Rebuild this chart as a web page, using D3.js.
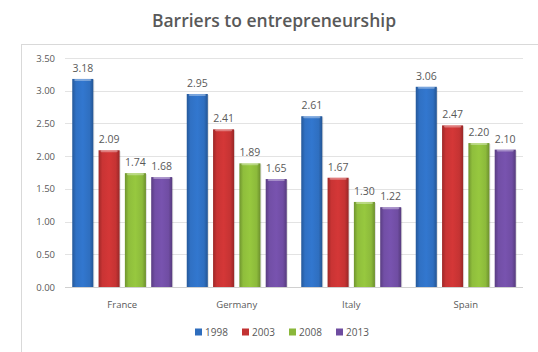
<!DOCTYPE html>
<html>
<head>
<meta charset="utf-8">
<script src="https://cdn.jsdelivr.net/npm/d3@7"></script>
<style>
  html, body { margin: 0; padding: 0; background: #fff; }
  svg { display: block; }
  text { font-family: "Open Sans", "Liberation Sans", sans-serif; }
</style>
</head>
<body>
<svg id="chart" width="538" height="352"></svg>
<script>
// Survey scores per country and year
const countries = ["France", "Germany", "Italy", "Spain"];
const years = ["1998", "2003", "2008", "2013"];
const values1998 = [3.18, 2.95, 2.61, 3.06];
const values2003 = [2.09, 2.41, 1.67, 2.47];
const values2008 = [1.74, 1.89, 1.30, 2.20];
const values2013 = [1.68, 1.65, 1.22, 2.10];
const yTicks = [0, 0.5, 1, 1.5, 2, 2.5, 3, 3.5];
const seriesColors = ["#2e6dbd", "#c23232", "#8ab73a", "#6e4ca0"];

const seriesValues = [values1998, values2003, values2008, values2013];
const rows = countries.map((c, i) => ({
  country: c,
  vals: years.map((y, s) => ({ year: y, s, value: seriesValues[s][i] }))
}));

const svg = d3.select("#chart");
const plot = { left: 65, right: 523, top: 58, bottom: 287 };

// outer chart frame
svg.append("rect")
  .attr("x", 21.5).attr("y", 44.5)
  .attr("width", 530).attr("height", 340)
  .attr("fill", "#fff").attr("stroke", "#d9d9d9");

// title
svg.append("text")
  .attr("x", 274).attr("y", 27)
  .attr("text-anchor", "middle")
  .attr("font-size", 17.5).attr("font-weight", 600)
  .attr("fill", "#595959")
  .text("Barriers to entrepreneurship");

const x0 = d3.scaleBand().domain(countries).range([plot.left, plot.right]);
const x1 = d3.scaleBand().domain(years)
  .range([0, 100]).paddingInner(0.2).paddingOuter(0);
const y = d3.scaleLinear().domain([0, 3.5]).range([plot.bottom, plot.top]);

// bevelled bar gradients
const defs = svg.append("defs");
seriesColors.forEach((col, i) => {
  const c = d3.color(col);
  const g = defs.append("linearGradient").attr("id", "grad" + i)
    .attr("x1", "0%").attr("x2", "100%").attr("y1", "0%").attr("y2", "0%");
  g.append("stop").attr("offset", "0%").attr("stop-color", c.darker(0.6));
  g.append("stop").attr("offset", "18%").attr("stop-color", c.brighter(0.1));
  g.append("stop").attr("offset", "50%").attr("stop-color", c.brighter(0.25));
  g.append("stop").attr("offset", "82%").attr("stop-color", c.brighter(0.05));
  g.append("stop").attr("offset", "100%").attr("stop-color", c.darker(0.7));
});

// gridlines
svg.append("g").selectAll("line")
  .data(yTicks.filter(t => t > 0))
  .join("line")
  .attr("x1", plot.left).attr("x2", plot.right)
  .attr("y1", d => Math.round(y(d)) + 0.5).attr("y2", d => Math.round(y(d)) + 0.5)
  .attr("stroke", "#e3e3e3");

// y axis labels
const yAxis = d3.axisLeft(y).tickValues(yTicks).tickFormat(d3.format(".2f")).tickSize(0).tickPadding(10);
const yg = svg.append("g").attr("transform", `translate(${plot.left},0)`).call(yAxis);
yg.select(".domain").remove();
yg.selectAll("text").attr("font-size", 9.5).attr("fill", "#595959")
  .attr("font-family", "\"Open Sans\", sans-serif");

// bars
const groups = svg.append("g").selectAll("g")
  .data(rows).join("g")
  .attr("transform", d => `translate(${x0(d.country) + (x0.bandwidth() - 100) / 2},0)`);

groups.selectAll("rect.shadow")
  .data(d => d.vals).join("rect")
  .attr("class", "shadow")
  .attr("x", d => x1(d.year) + 1)
  .attr("y", d => y(d.value) + 1)
  .attr("width", x1.bandwidth())
  .attr("height", d => plot.bottom - y(d.value))
  .attr("fill", "#000").attr("opacity", 0.12);

groups.selectAll("rect.bar")
  .data(d => d.vals).join("rect")
  .attr("class", "bar")
  .attr("x", d => x1(d.year))
  .attr("y", d => y(d.value))
  .attr("width", x1.bandwidth())
  .attr("height", d => plot.bottom - y(d.value))
  .attr("fill", d => `url(#grad${d.s})`);

// top highlight of each bar
groups.selectAll("rect.cap")
  .data(d => d.vals).join("rect")
  .attr("class", "cap")
  .attr("x", d => x1(d.year) + 2)
  .attr("y", d => y(d.value))
  .attr("width", x1.bandwidth() - 4)
  .attr("height", 2)
  .attr("rx", 1)
  .attr("fill", "#fff").attr("opacity", 0.35);

// value labels
groups.selectAll("text.val")
  .data(d => d.vals).join("text")
  .attr("class", "val")
  .attr("x", d => x1(d.year) + x1.bandwidth() / 2)
  .attr("y", d => y(d.value) - 7)
  .attr("text-anchor", "middle")
  .attr("font-size", 10.5).attr("fill", "#595959")
  .text(d => d3.format(".2f")(d.value));

// x axis line
svg.append("line")
  .attr("x1", plot.left).attr("x2", plot.right)
  .attr("y1", plot.bottom + 0.5).attr("y2", plot.bottom + 0.5)
  .attr("stroke", "#d0d0d0");

// category labels
const xAxis = d3.axisBottom(x0).tickSize(0).tickPadding(14);
const xg = svg.append("g").attr("transform", `translate(0,${plot.bottom})`).call(xAxis);
xg.select(".domain").remove();
xg.selectAll("text").attr("font-size", 9.5).attr("fill", "#595959")
  .attr("font-family", "\"Open Sans\", sans-serif");

// legend
const legendStep = 47;
const legend = svg.append("g").attr("transform", "translate(195,332)");
const items = legend.selectAll("g").data(years).join("g")
  .attr("transform", (d, i) => `translate(${i * legendStep},0)`);
items.append("rect")
  .attr("x", 0).attr("y", -3.5).attr("width", 7).attr("height", 7)
  .attr("fill", (d, i) => seriesColors[i]);
items.append("text")
  .attr("x", 10).attr("y", 4)
  .attr("font-size", 10).attr("fill", "#595959")
  .text(d => d);
</script>
</body>
</html>
